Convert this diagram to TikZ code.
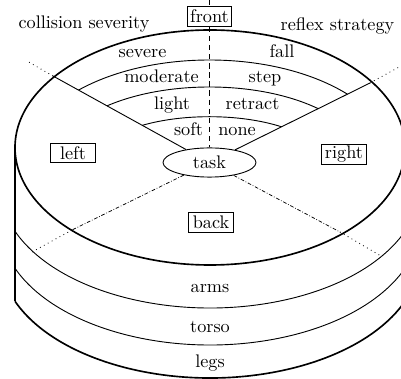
\documentclass[tikz,border=0pt]{standalone}
\usetikzlibrary{shapes.geometric,calc}
\begin{document}
\begin{tikzpicture}[x=0.5486pt,y=-0.5486pt,
  outline/.style={line width=0.9pt},
  thinline/.style={line width=0.5pt},
  lbl/.style={anchor=base, inner sep=0pt},
  boxed/.style={draw, line width=0.45pt, inner sep=0.8pt, fill=white,
    minimum width=24.5pt, minimum height=10.7pt},
  outdot/.style={dotted, line width=0.45pt},
  indashdot/.style={line width=0.4pt, dash pattern=on 2pt off 1pt on 0.4pt off 1pt},
  frontline/.style={densely dashed, line width=0.5pt},
]
\useasboundingbox (0,0) rectangle (401,379);
\clip (0,0) rectangle (401,379);

% cylinder outline
\draw[outline] (210,147.5) ellipse (195 and 117.5);
\draw[outline] (15,147.5) -- (15,301);
\draw[thinline] (210,186) ++(158.2:210 and 122) arc[start angle=158.2, end angle=0, x radius=210, y radius=122];
\draw[thinline] (210,223) ++(158.2:210 and 122) arc[start angle=158.2, end angle=0, x radius=210, y radius=122];
\draw[outline] (210,256) ++(158.2:210 and 122) arc[start angle=158.2, end angle=0, x radius=210, y radius=122];

% task node
\node[draw, ellipse, line width=0.5pt, minimum width=51pt, minimum height=16pt, inner sep=0pt] (task) at (209.5,162.5) {task};

% rays
\coordinate (ULi) at (53,76);   \coordinate (ULo) at (27,61);
\coordinate (URi) at (370,83);  \coordinate (URo) at (400,66.5);
\coordinate (LLi) at (72,230);  \coordinate (LLo) at (32,252);
\coordinate (LRi) at (340,232); \coordinate (LRo) at (381,256);
\draw[thinline] (task) -- (ULi);
\draw[outdot] (ULi) -- (ULo);
\draw[thinline] (task) -- (URi);
\draw[outdot] (URi) -- (URo);
\draw[indashdot] (task) -- (LLi);
\draw[outdot] (LLi) -- (LLo);
\draw[indashdot] (task) -- (LRi);
\draw[outdot] (LRi) -- (LRo);

% severity arcs
\begin{scope}
\clip (task.center) -- ($(task.center)!4!(ULi)$) -- (209.5,-400) -- ($(task.center)!4!(URi)$) -- cycle;
\draw[thinline] (209.5,162.5) ellipse (185 and 102.5);
\draw[thinline] (209.5,162.5) ellipse (155 and 75.5);
\draw[thinline] (209.5,162.5) ellipse (115 and 45.8);
\end{scope}

% front line
\coordinate (topend) at (209.5,0);
\node[boxed] (front) at (209.5,16.5) {front};
\draw[frontline] (topend) -- (front);
\draw[frontline] (front) -- (task);

% boxes
\node[boxed] (left) at (73,153) {left};
\node[boxed] (right) at (344,154.5) {right};
\node[boxed] (back) at (211,222.5) {back};

% labels
\node[lbl] (cs) at (84,28.3) {collision severity};
\node[lbl] (rs) at (337.5,31) {reflex strategy};
\node[lbl] (severe) at (142.5,57.3) {severe};
\node[lbl] (fall) at (282,57.3) {fall};
\node[lbl] (moderate) at (161.5,82.7) {moderate};
\node[lbl] (step) at (265,82.7) {step};
\node[lbl] (light) at (172,109.3) {light};
\node[lbl] (retract) at (252.5,109.3) {retract};
\node[lbl] (soft) at (188.5,135.7) {soft};
\node[lbl] (none) at (237,135.7) {none};
\node[lbl] (arms) at (210,292.7) {arms};
\node[lbl] (torso) at (210,332.7) {torso};
\node[lbl] (legs) at (210,367.3) {legs};
\end{tikzpicture}
\end{document}
